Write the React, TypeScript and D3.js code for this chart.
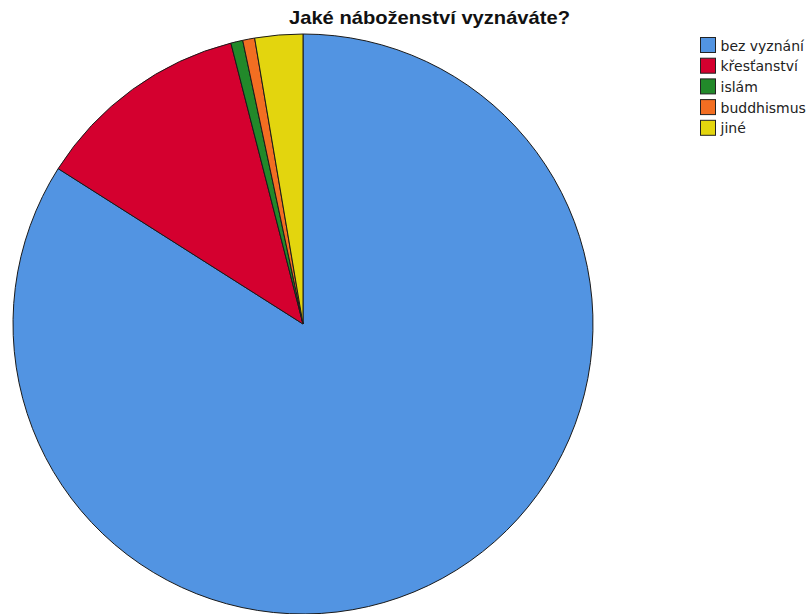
import React from "react";
import * as d3 from "d3";

const categories = ["bez vyznání", "křesťanství", "islám", "buddhismus", "jiné"];
const counts = [126, 18, 1, 1, 4];
const colors = ["#5294E2", "#D4002F", "#22892A", "#F26E22", "#E3D50E"];
const title = "Jaké náboženství vyznáváte?";

export default function App() {
  const width = 810;
  const height = 614;
  const cx = 303;
  const cy = 324;
  const r = 290;
  const pie = d3.pie<number>().sort(null).value((d) => d)(counts);
  const arc = d3.arc<d3.PieArcDatum<number>>().innerRadius(0).outerRadius(r);
  return (
    <svg
      width={width}
      height={height}
      style={{ position: "absolute", left: 0, top: 0, background: "#fff" }}
      fontFamily="Arial, 'Liberation Sans', sans-serif"
    >
      <rect width={width} height={height} fill="#fff" />
      <text
        x={429.5}
        y={24}
        textAnchor="middle"
        fontSize={19}
        fontWeight="bold"
        fill="#111"
        textLength={281}
        lengthAdjust="spacingAndGlyphs"
      >
        {title}
      </text>
      <g transform={`translate(${cx},${cy})`}>
        {pie.map((p, i) => (
          <path key={i} d={arc(p) || ""} fill={colors[i]} stroke="#1a1a1a" strokeWidth={1} />
        ))}
      </g>
      <g>
        {categories.map((c, i) => (
          <g key={c} transform={`translate(700.5,${37.5 + i * 20.7})`}>
            <rect x={0} y={0} width={15} height={15} fill={colors[i]} stroke="#222" strokeWidth={1} />
            <text x={20} y={13} fontSize={14} fill="#222" fontFamily="'DejaVu Sans', sans-serif">
              {c}
            </text>
          </g>
        ))}
      </g>
    </svg>
  );
}
